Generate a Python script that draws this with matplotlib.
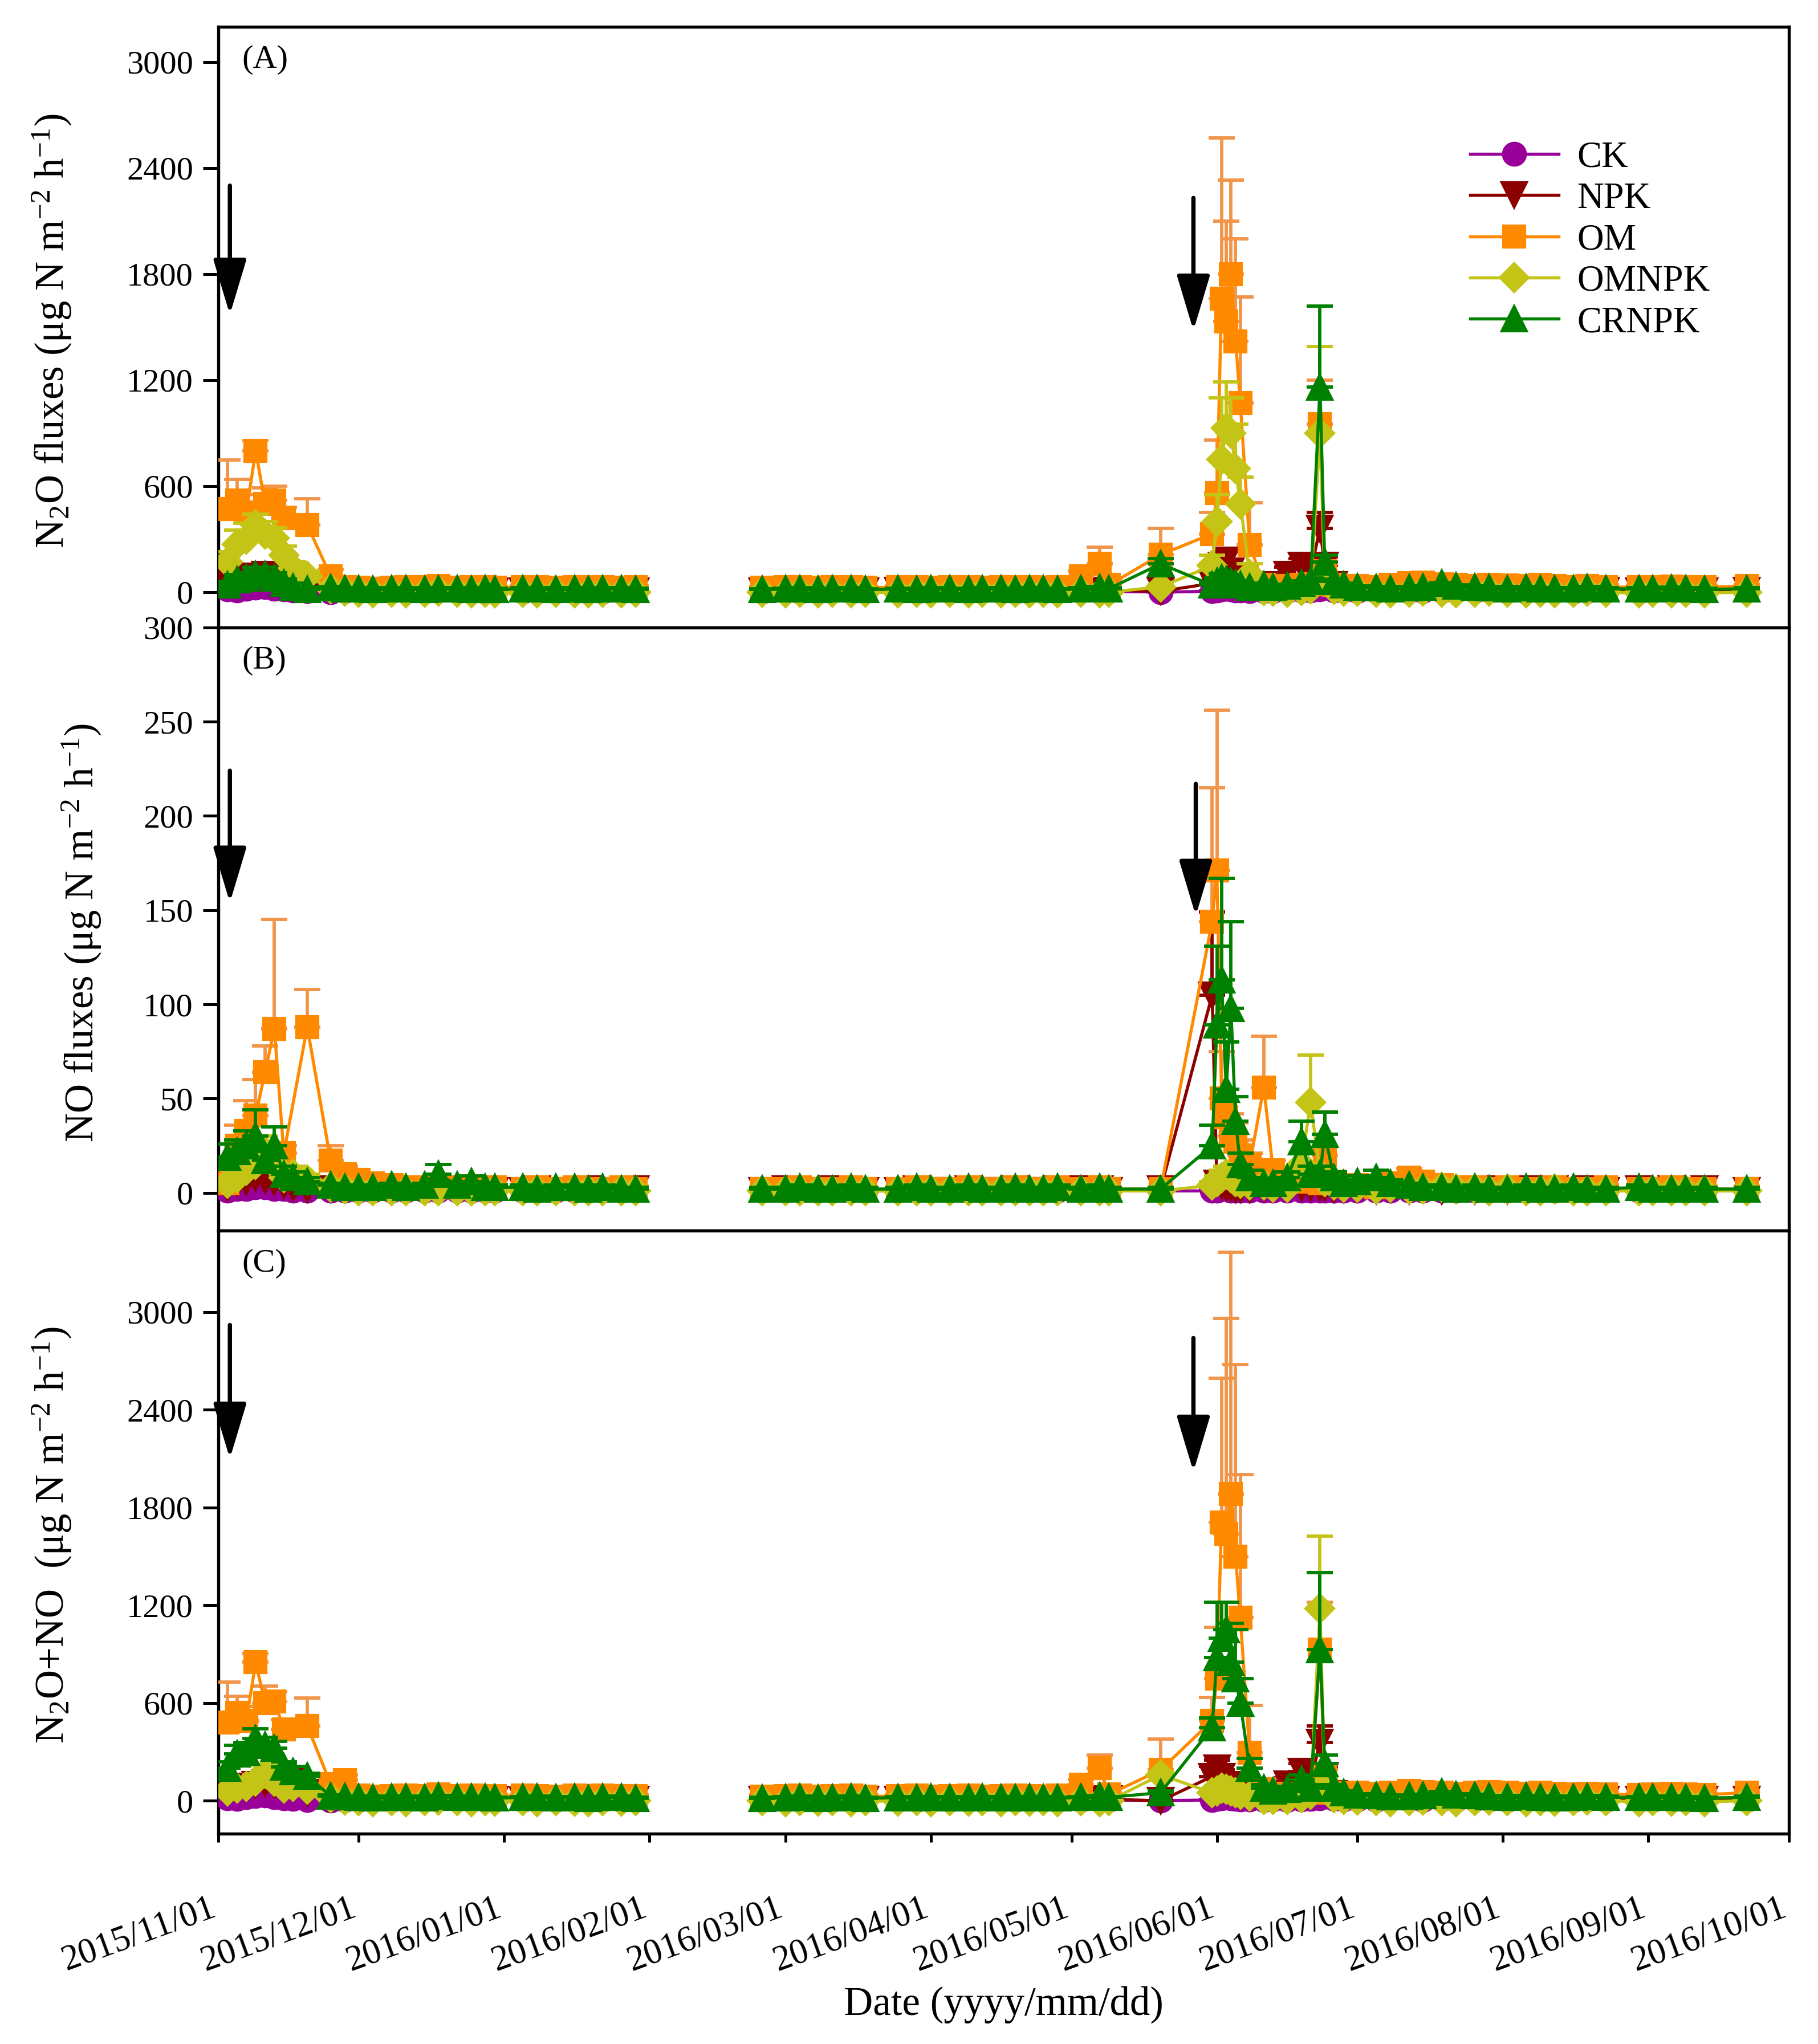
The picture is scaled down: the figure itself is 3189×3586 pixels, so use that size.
import numpy as np
import matplotlib
matplotlib.use("Agg")
import matplotlib.pyplot as plt
import matplotlib.dates as mdates
import matplotlib.transforms as mtransforms
from matplotlib.lines import Line2D

plt.rcParams['font.family'] = ['Liberation Serif', 'DejaVu Serif']
plt.rcParams['mathtext.fontset'] = 'custom'
plt.rcParams['mathtext.rm'] = 'Liberation Serif'
plt.rcParams['mathtext.it'] = 'Liberation Serif:italic'
plt.rcParams['mathtext.bf'] = 'Liberation Serif:bold'

nan = np.nan

# ---------------- sampling dates ----------------
dates = (["2015-11-03", "2015-11-05", "2015-11-07", "2015-11-09", "2015-11-11", "2015-11-13",
          "2015-11-15", "2015-11-17", "2015-11-20"] +
         ["2015-11-25", "2015-11-28", "2015-12-01", "2015-12-04", "2015-12-08", "2015-12-11",
          "2015-12-15", "2015-12-18", "2015-12-22", "2015-12-25", "2015-12-28", "2015-12-30",
          "2016-01-05", "2016-01-08", "2016-01-12", "2016-01-16", "2016-01-19", "2016-01-22",
          "2016-01-26", "2016-01-29"] +
         ["2016-02-25", "2016-03-01", "2016-03-04", "2016-03-08", "2016-03-11", "2016-03-15",
          "2016-03-18"] +
         ["2016-03-25", "2016-03-29", "2016-04-01", "2016-04-05", "2016-04-09", "2016-04-12",
          "2016-04-16", "2016-04-19", "2016-04-22", "2016-04-25", "2016-04-28"] +
         ["2016-05-03", "2016-05-07", "2016-05-09", "2016-05-20"] +
         ["2016-05-31", "2016-06-01", "2016-06-02", "2016-06-03", "2016-06-04", "2016-06-05",
          "2016-06-06", "2016-06-08"] +
         ["2016-06-11", "2016-06-13", "2016-06-16", "2016-06-19", "2016-06-21", "2016-06-23",
          "2016-06-24", "2016-06-26", "2016-06-28"] +
         ["2016-07-01", "2016-07-05", "2016-07-08", "2016-07-12", "2016-07-15", "2016-07-19",
          "2016-07-22", "2016-07-26", "2016-07-29", "2016-08-02", "2016-08-06", "2016-08-09",
          "2016-08-12", "2016-08-16", "2016-08-19", "2016-08-23", "2016-08-30", "2016-09-02",
          "2016-09-06", "2016-09-09", "2016-09-13", "2016-09-22"])

treatments = ["CK", "NPK", "OM", "OMNPK", "CRNPK"]

# ---------------- (A) N2O fluxes ----------------
A_CK = ([15, 10, 20, 25, 30, 20, 15, 10, 5] +
        [0, 5, 5, 3, 5, 8, 6, 10, 8, 5, 3, 5, 4, 6, 5, 3, 5, 4, 6, 5] +
        [3, 5, 4, 6, 5, 4, 5] + [5, 4, 6, 5, 7, 5, 6, 4, 5, 6, 5] + [5, 6, 5, 0] +
        [5, 10, 15, 20, 15, 10, 8, 6] + [5, 6, 5, 8, 10, 15, 30, 10, 8] +
        [6, 5, 8, 6, 5, 7, 5, 6, 8, 5, 6, 7, 5, 4, 6, 5, 4, 5, 6, 5, 4, 5])
A_CK_err = ([10, 8, 10, 12, 12, 10, 8, 6, 4] + [3] * 20 + [3] * 7 + [3] * 11 + [3, 3, 3, 2] +
            [4, 6, 8, 10, 8, 6, 4, 3] + [3, 3, 3, 4, 5, 8, 15, 5, 4] + [3] * 22)
A_NPK = ([60, 70, 80, 90, 100, 90, 70, 60, 40] +
         [20, 10, 8, 10, 8, 6, 8, 10, 8, 6, 5, 6, 5, 8, 6, 5, 6, 5, 4, 5] +
         [6, 5, 8, 6, 10, 8, 6] + [8, 6, 10, 8, 6, 8, 10, 8, 6, 10, 8] + [10, 8, 10, 5] +
         [50, 80, 150, 180, 120, 80, 50, 30] + [30, 40, 100, 150, 120, 360, 150, 40, 20] +
         [15, 10, 12, 15, 20, 10, 12, 8, 10, 12, 8, 10, 6, 8, 10, 8, 6, 8, 10, 8, 6, 8])
A_NPK_err = ([20, 20, 25, 25, 30, 25, 20, 15, 10] + [5] * 20 + [4] * 7 + [4] * 11 + [4, 4, 4, 3] +
             [15, 30, 40, 50, 35, 25, 15, 10] + [10, 15, 40, 40, 40, 90, 50, 15, 8] + [5] * 22)
A_OM = ([470, 520, 450, 800, 500, 520, 420, nan, 380] +
        [90, 30, 25, 20, 25, 30, 28, 35, 25, 30, 28, 25, 30, 28, 25, 30, 28, 30, 25, 28] +
        [25, 28, 30, 25, 28, 30, 25] + [28, 30, 25, 28, 30, 25, 28, 30, 28, 25, 30] +
        [90, 160, 40, 212] +
        [330, 560, 1660, 1530, 1800, 1420, 1070, 266] + [40, 30, 35, 40, 45, 950, 120, 40, 30] +
        [35, 30, 40, 50, 55, 45, 40, 35, 40, 38, 35, 40, 35, 30, 35, 30, 28, 30, 32, 30, 28, 35])
A_OM_err = ([277, 117, 100, 57, 90, 80, 60, nan, 150] + [40, 10] + [8] * 18 + [8] * 7 + [8] * 11 +
            [30, 95, 10, 150] + [120, 300, 910, 570, 530, 580, 600, 240] +
            [10, 8, 10, 12, 15, 250, 40, 10, 8] + [10] * 22)
A_OMNPK = ([170, 270, 300, 380, 330, 305, 210, 135, 90] +
           [20, 5, 0, -5, 0, -5, 0, 5, 0, -5, 0, -3, 0, -5, 0, -3, -5, 0, -3, 0] +
           [0, -5, 0, -3, 0, -5, 0] + [-3, 0, -5, 0, -3, 0, -5, 0, -3, 0, -5] + [0, -5, 0, 30] +
           [150, 400, 750, 930, 900, 700, 500, 100] + [10, 5, 0, 10, 20, 900, 80, 15, 5] +
           [5, 0, -5, 0, 5, 0, -5, 0, 5, 0, -5, 0, -3, 0, 5, 0, -5, 0, -3, 0, -5, 0])
A_OMNPK_err = ([60, 80, 90, 60, 70, 60, 50, 40, 30] + [5] * 20 + [4] * 7 + [4] * 11 + [4, 4, 4, 10] +
               [60, 150, 350, 260, 200, 250, 150, 60] + [5, 5, 5, 5, 10, 490, 30, 8, 5] + [4] * 22)
A_CRNPK = ([40, 70, 80, 100, 100, 80, 50, 30, 15] +
           [25, 20, 18, 15, 18, 20, 15, 18, 20, 15, 18, 15, 18, 20, 15, 18, 15, 18, 20, 15] +
           [15, 18, 20, 15, 18, 20, 15] + [18, 15, 20, 18, 15, 20, 18, 15, 20, 18, 15] +
           [20, 25, 20, 160] +
           [40, 60, 80, 70, 60, 50, 40, 30] + [40, 30, 35, 50, 60, 1160, 170, 60, 40] +
           [30, 25, 20, 25, 30, 50, 35, 30, 25, 20, 25, 20, 18, 20, 25, 20, 18, 20, 22, 18, 15, 20])
A_CRNPK_err = ([20, 30, 30, 40, 40, 30, 25, 20, 15] + [6] * 20 + [5] * 7 + [5] * 11 + [5, 6, 5, 30] +
               [15, 20, 25, 25, 20, 15, 12, 10] + [10, 10, 10, 15, 20, 460, 40, 15, 10] + [6] * 22)

# ---------------- (B) NO fluxes ----------------
B_CK = ([1, 2, 2, 3, 3, 2, 2, 1, 1] + [1] * 20 + [1] * 7 + [1] * 11 + [1, 1, 1, 1] +
        [1, 1, 2, 2, 1, 1, 1, 1] + [1, 1, 1, 1, 1, 1, 1, 1, 1] + [1] * 22)
B_CK_err = [0.5] * 90
B_NPK = ([3, 5, 6, 8, 7, 6, 4, 3, 2] +
         [2, 2, 1, 1, 2, 1, 1, 2, 1, 1, 2, 1, 1, 2, 1, 1, 2, 1, 1, 2] +
         [1, 2, 1, 1, 2, 1, 1] + [1, 2, 1, 1, 2, 1, 1, 2, 1, 1, 2] + [2, 2, 1, 2] +
         [105, 5, 4, 3, 3, 2, 2, 2] + [3, 3, 3, 3, 3, 3, 3, 2, 2] +
         [2, 1, 2, 1, 2, 1, 2, 1, 2, 1, 2, 1, 2, 1, 2, 1, 2, 1, 2, 1, 2, 1])
B_NPK_err = ([2, 2, 3, 3, 3, 2, 2, 1, 1] + [1] * 20 + [1] * 7 + [1] * 11 + [1] * 4 +
             [44, 2, 2, 1, 1, 1, 1, 1] + [1] * 9 + [1] * 22)
B_OM = ([5, 25, 33, 41, 64, 87, 21, nan, 88] +
        [17, 10, 7, 5, 4, 3, 3, 4, 3, 3, 2, 3, 2, 3, 2, 3, 2, 2, 3, 2] +
        [2, 2, 3, 2, 2, 3, 2] + [2, 3, 2, 2, 3, 2, 2, 3, 2, 2, 3] + [2, 3, 2, 2] +
        [144, 171, 50, 40, 30, 27, 20, 15] + [56, 12, 6, 8, 6, 5, 20, 6, 4] +
        [4, 3, 5, 8, 6, 4, 3, 3, 2, 3, 2, 2, 3, 2, 2, 3, 2, 2, 3, 2, 2, 2])
B_OM_err = ([3, 11, 16, 19, 14, 58, 4, nan, 20] + [8, 4, 3, 2] + [1.5] * 16 + [1] * 7 + [1] * 11 +
            [1, 1, 1, 1] + [71, 85, 25, 15, 12, 10, 8, 6] + [27, 5, 3, 3, 3, 2, 23, 3, 2] +
            [2, 2, 3, 5, 3] + [1.5] * 17)
B_OMNPK = ([5, 8, 12, 15, 22, 15, 8, 10, 7] +
           [3, 2, 1, 1, 1, 1, 1, 1, 1, 1, 1, 1, 1, 1, 1, 1, 1, 1, 1, 1] +
           [1] * 7 + [1] * 11 + [1, 1, 1, 1] +
           [4, 6, 8, 10, 8, 6, 5, 4] + [4, 3, 3, 15, 48, 10, 6, 4, 3] +
           [3, 2, 3, 2, 2, 3, 2, 2, 1, 2, 1, 1, 2, 1, 1, 1, 1, 1, 1, 1, 1, 1])
B_OMNPK_err = ([3, 4, 5, 6, 8, 5, 3, 4, 3] + [1] * 20 + [1] * 7 + [1] * 11 + [1] * 4 +
               [2, 3, 4, 4, 3, 3, 2, 2] + [2, 2, 2, 6, 25, 4, 3, 2, 2] + [1] * 22)
B_CRNPK = ([19, 22, 25, 30, 17, 25, 10, 8, 6] +
           [4, 3, 3, 3, 4, 3, 4, 10, 4, 6, 3, 3, 3, 2, 3, 3, 2, 3, 2, 2] +
           [2, 2, 3, 2, 2, 3, 2] + [2, 3, 2, 2, 3, 2, 2, 3, 2, 2, 3] + [2, 3, 2, 2] +
           [25, 89, 113, 55, 98, 38, 15, 8] + [5, 5, 8, 27, 10, 10, 31, 8, 5] +
           [6, 8, 5, 4, 3, 3, 2, 3, 2, 2, 3, 2, 2, 3, 2, 2, 3, 2, 2, 2, 2, 2])
B_CRNPK_err = ([7, 6, 8, 14, 5, 10, 4, 3, 2] + [1, 1, 1, 1, 1, 1, 1, 5, 1, 3] + [1] * 10 + [1] * 7 +
               [1] * 11 + [1] * 4 + [11, 42, 54, 25, 46, 13, 6, 4] + [2, 2, 3, 11, 4, 4, 12, 3, 2] +
               [3, 4, 2] + [1] * 19)

# ---------------- (C) N2O+NO ----------------
C_CK = ([15, 12, 22, 28, 33, 22, 17, 11, 6] +
        [1, 6, 6, 4, 6, 9, 7, 11, 9, 6, 4, 6, 5, 7, 6, 4, 6, 5, 7, 6] +
        [4, 6, 5, 7, 6, 5, 6] + [6, 5, 7, 6, 8, 6, 7, 5, 6, 7, 6] + [6, 7, 6, 1] +
        [6, 11, 17, 22, 16, 11, 9, 7] + [6, 7, 6, 9, 11, 16, 31, 11, 9] +
        [7, 6, 9, 7, 6, 8, 6, 7, 9, 6, 7, 8, 6, 5, 7, 6, 5, 6, 7, 6, 5, 6])
C_CK_err = ([10, 8, 10, 12, 12, 10, 8, 6, 4] + [3] * 20 + [3] * 7 + [3] * 11 + [3, 3, 3, 2] +
            [4, 6, 8, 10, 8, 6, 4, 3] + [3, 3, 3, 4, 5, 8, 15, 5, 4] + [3] * 22)
C_NPK = ([70, 80, 90, 100, 110, 100, 90, 120, 50] +
         [22, 12, 9, 11, 10, 7, 9, 12, 9, 7, 7, 7, 6, 10, 7, 6, 8, 6, 5, 7] +
         [7, 7, 9, 7, 12, 9, 7] + [9, 8, 11, 9, 8, 9, 11, 10, 7, 11, 10] + [12, 10, 11, 0] +
         [150, 200, 150, 100, 80, 60, 40, 20] + [33, 43, 103, 180, 123, 360, 153, 42, 22] +
         [17, 11, 14, 16, 22, 11, 14, 9, 12, 13, 10, 11, 8, 9, 12, 9, 8, 9, 12, 9, 8, 9])
C_NPK_err = ([20, 20, 25, 25, 30, 25, 20, 15, 10] + [5] * 20 + [4] * 7 + [4] * 11 + [4, 4, 4, 3] +
             [60, 50, 40, 30, 25, 20, 15, 10] + [10, 15, 40, 50, 40, 100, 50, 15, 8] + [5] * 22)
C_OM = ([480, 540, 490, 850, 600, 610, 440, nan, 460] +
        [104, 128, 32, 25, 29, 33, 31, 39, 28, 33, 30, 28, 32, 31, 27, 33, 30, 32, 28, 30] +
        [27, 30, 33, 27, 30, 33, 27] + [30, 33, 27, 30, 33, 27, 30, 33, 30, 27, 33] +
        [100, 200, 40, 190] +
        [493, 750, 1709, 1639, 1883, 1497, 1123, 294] + [70, 45, 40, 45, 50, 930, 150, 50, 40] +
        [50, 45, 50, 60, 55, 50, 45, 50, 55, 50, 45, 50, 45, 40, 45, 40, 38, 40, 42, 40, 38, 50])
C_OM_err = ([250, 100, 90, 55, 105, 60, 60, nan, 170] + [40, 30] + [8] * 18 + [8] * 7 + [8] * 11 +
            [30, 80, 10, 190] + [140, 315, 886, 1323, 1483, 1180, 880, 290] +
            [20, 10, 10, 10, 15, 290, 40, 12, 10] + [10] * 22)
C_OMNPK = ([60, 80, 90, 120, 170, 120, 80, 90, 70] +
           [20, 5, 0, -5, 0, -5, 0, 5, 0, -5, 0, -3, 0, -5, 0, -3, -5, 0, -3, 0] +
           [0, -5, 0, -3, 0, -5, 0] + [-3, 0, -5, 0, -3, 0, -5, 0, -3, 0, -5] + [0, -5, 0, 160] +
           [50, 60, 80, 70, 60, 50, 40, 30] + [10, 10, 10, 20, 40, 1180, 100, 20, 10] +
           [5, 0, -5, 0, 5, 0, -5, 0, 5, 0, -5, 0, -3, 0, 5, 0, -5, 0, -3, 0, -5, 0])
C_OMNPK_err = ([30, 40, 40, 40, 50, 40, 30, 30, 20] + [5] * 20 + [4] * 7 + [4] * 11 + [4, 4, 4, 20] +
               [20, 20, 25, 25, 20, 15, 12, 10] + [5, 5, 5, 8, 15, 444, 30, 8, 5] + [4] * 22)
C_CRNPK = ([200, 290, 300, 383, 340, 325, 209, 180, 151] +
           [30, 25, 22, 18, 22, 23, 19, 28, 24, 21, 21, 18, 21, 22, 18, 21, 17, 21, 22, 17] +
           [17, 20, 23, 17, 20, 23, 17] + [20, 18, 22, 20, 18, 22, 20, 18, 22, 20, 18] +
           [22, 28, 22, 50] +
           [450, 880, 1000, 1050, 850, 750, 600, 200] + [80, 60, 70, 130, 80, 930, 230, 80, 50] +
           [36, 33, 25, 29, 33, 53, 37, 33, 27, 22, 28, 22, 20, 23, 27, 22, 21, 22, 24, 20, 17, 22])
C_CRNPK_err = ([40, 50, 60, 60, 50, 40, 30, 30, 20] + [6] * 20 + [5] * 7 + [5] * 11 + [5, 6, 5, 10] +
               [60, 340, 220, 170, 240, 300, 150, 60] + [20, 15, 20, 30, 20, 470, 50, 20, 10] +
               [6] * 22)

panels = [
    {"tag": "(A)", "values": [A_CK, A_NPK, A_OM, A_OMNPK, A_CRNPK],
     "errors": [A_CK_err, A_NPK_err, A_OM_err, A_OMNPK_err, A_CRNPK_err]},
    {"tag": "(B)", "values": [B_CK, B_NPK, B_OM, B_OMNPK, B_CRNPK],
     "errors": [B_CK_err, B_NPK_err, B_OM_err, B_OMNPK_err, B_CRNPK_err]},
    {"tag": "(C)", "values": [C_CK, C_NPK, C_OM, C_OMNPK, C_CRNPK],
     "errors": [C_CK_err, C_NPK_err, C_OM_err, C_OMNPK_err, C_CRNPK_err]},
]

# ---------------- styles ----------------
colors = {"CK": "#990099", "NPK": "#8C0000", "OM": "#FF8A00", "OMNPK": "#C4C417", "CRNPK": "#008000"}
err_colors = {"CK": "#990099", "NPK": "#8C0000", "OM": "#F0954A", "OMNPK": "#C4C417", "CRNPK": "#008000"}
markers = {"CK": ("o", 9.5), "NPK": ("v", 10.5), "OM": ("s", 9), "OMNPK": ("D", 8.5), "CRNPK": ("^", 10.5)}

fig = plt.figure(figsize=(3189 / 300, 3586 / 300), dpi=300)
left, width = 0.120, 0.864
axA = fig.add_axes([left, 0.693, width, 0.294])
axB = fig.add_axes([left, 0.398, width, 0.295])
axC = fig.add_axes([left, 0.103, width, 0.295])
axes = [axA, axB, axC]

x = mdates.datestr2num(dates)
xmin = mdates.datestr2num("2015-11-01")
xmax = mdates.datestr2num("2016-10-01")

# split lines where the sampling gap is long (no measurements in February)
breaks = np.where(np.diff(x) > 20)[0] + 1
segments = np.split(np.arange(len(x)), breaks)

for ax, p in zip(axes, panels):
    for k, name in enumerate(treatments):
        y = np.array(p["values"][k], dtype=float)
        e = np.array(p["errors"][k], dtype=float)
        col = colors[name]
        mk, ms = markers[name]
        z = 3 + k
        ok = ~np.isnan(y)
        ax.errorbar(x[ok], y[ok], yerr=[np.zeros(ok.sum()), e[ok]], fmt="none",
                    ecolor=err_colors[name], elinewidth=1.4, capsize=5.5, capthick=1.4, zorder=z)
        for seg in segments:
            s = seg[ok[seg]]
            ax.plot(x[s], y[s], color=col, lw=1.3, marker=mk, ms=ms, mfc=col, mec=col,
                    zorder=z + 0.5)
    ax.set_xlim(xmin, xmax)
    ax.xaxis.set_major_locator(mdates.MonthLocator())
    ax.xaxis.set_major_formatter(mdates.DateFormatter("%Y/%m/%d"))
    ax.tick_params(axis="x", direction="out", length=3.5, width=1.2)
    ax.tick_params(axis="y", direction="out", length=6.5, width=1.2, labelsize=14, pad=4)
    for sp in ax.spines.values():
        sp.set_linewidth(1.3)
    ax.text(0.015, 0.945, p["tag"], transform=ax.transAxes, fontsize=14, ha="left", va="center")

axA.set_ylim(-200, 3200)
axA.set_yticks([0, 600, 1200, 1800, 2400, 3000])
axB.set_ylim(-20, 300)
axB.set_yticks([0, 50, 100, 150, 200, 250, 300])
axC.set_ylim(-200, 3500)
axC.set_yticks([0, 600, 1200, 1800, 2400, 3000])

for ax in (axA, axB):
    ax.tick_params(axis="x", labelbottom=False)
axC.tick_params(axis="x", labelsize=15, pad=21)
shift = mtransforms.ScaledTranslation(-4 / 72, 0, fig.dpi_scale_trans)
for lab in axC.get_xticklabels():
    lab.set_rotation(20)
    lab.set_ha("right")
    lab.set_rotation_mode("anchor")
    lab.set_transform(lab.get_transform() + shift)

# fertilization arrows
arrow_style = "-|>,head_length=1.0,head_width=0.3"
arrow_specs = [
    (axA, [("2015-11-03 12:00", 2300, 1570), ("2016-05-27", 2230, 1480)]),
    (axB, [("2015-11-03 12:00", 224, 154), ("2016-05-27 12:00", 217, 147)]),
    (axC, [("2015-11-03 12:00", 2920, 2100), ("2016-05-27", 2840, 2020)]),
]
for ax, specs in arrow_specs:
    for d, y0, y1 in specs:
        xd = mdates.datestr2num(d)
        ax.annotate("", xy=(xd, y1), xytext=(xd, y0),
                    arrowprops=dict(arrowstyle=arrow_style, lw=1.8, color="black",
                                    mutation_scale=20, shrinkA=0, shrinkB=0), zorder=10)

# legend
handles = [Line2D([], [], color=colors[n], lw=1.3, marker=markers[n][0], ms=markers[n][1],
                  mfc=colors[n], mec=colors[n]) for n in treatments]
axA.legend(handles, treatments, loc="upper left", bbox_to_anchor=(0.797, 0.810), frameon=False,
           fontsize=15.5, handlelength=2.4, handletextpad=0.5, labelspacing=0.2,
           borderpad=0, borderaxespad=0)

# axis titles
fig.text(0.0287, 0.838, r"N$_2$O fluxes (μg N m$^{-2}$ h$^{-1}$)", rotation=90,
         ha="center", va="center", fontsize=17)
fig.text(0.045, 0.5437, r"NO fluxes (μg N m$^{-2}$ h$^{-1}$)", rotation=90,
         ha="center", va="center", fontsize=17)
fig.text(0.0287, 0.249, r"N$_2$O+NO  (μg N m$^{-2}$ h$^{-1}$)", rotation=90,
         ha="center", va="center", fontsize=17)
fig.text(0.552, 0.0192, "Date (yyyy/mm/dd)", ha="center", va="center", fontsize=17)

fig.savefig("out.png", dpi=300, facecolor="white")
